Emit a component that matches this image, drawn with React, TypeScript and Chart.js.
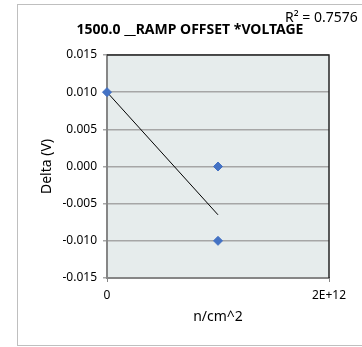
import React, { useEffect, useRef } from "react";
import { Chart, registerables } from "chart.js";

Chart.register(...registerables);

const chartTitle = "1500.0 __RAMP OFFSET *VOLTAGE";
const rSquaredLabel = "R² = 0.7576";
const xAxisTitle = "n/cm^2";
const yAxisTitle = "Delta (V)";

const pointX = [0, 1e12, 1e12];
const pointY = [0.01, 0.0, -0.01];

const trendX = [0, 1e12];
const trendY = [0.01, -0.0065];

const yTickMin = -0.015;
const yTickMax = 0.015;
const yTickStep = 0.005;
const xTickMin = 0;
const xTickMax = 2e12;

const FONT = "'Noto Sans', 'Liberation Sans', sans-serif";

const decorPlugin = {
  id: "decor",
  beforeDraw(chart: any) {
    const { ctx, chartArea } = chart;
    ctx.save();
    ctx.strokeStyle = "#BFBFBF";
    ctx.lineWidth = 1;
    ctx.strokeRect(17.5, 4.5, 400, 341);
    ctx.fillStyle = "#E6ECEC";
    ctx.fillRect(chartArea.left, chartArea.top, chartArea.right - chartArea.left, chartArea.bottom - chartArea.top);
    ctx.restore();
  },
  afterDatasetsDraw(chart: any) {
    const { ctx, chartArea } = chart;
    ctx.save();
    ctx.strokeStyle = "#262626";
    ctx.lineWidth = 1.5;
    ctx.beginPath();
    ctx.moveTo(chartArea.left, chartArea.top);
    ctx.lineTo(chartArea.right, chartArea.top);
    ctx.lineTo(chartArea.right, chartArea.bottom);
    ctx.stroke();
    ctx.restore();
  },
  afterDraw(chart: any) {
    const { ctx, chartArea } = chart;
    ctx.save();
    ctx.fillStyle = "#000000";
    ctx.textAlign = "center";
    ctx.textBaseline = "middle";
    ctx.font = `bold 14px ${FONT}`;
    ctx.fillText(chartTitle, 190, 30);
    ctx.textAlign = "left";
    ctx.font = `14px ${FONT}`;
    ctx.fillText(rSquaredLabel, 285, 18);
    ctx.textAlign = "center";
    ctx.font = `14px ${FONT}`;
    ctx.fillText(xAxisTitle, (chartArea.left + chartArea.right) / 2, 317);
    ctx.translate(47, (chartArea.top + chartArea.bottom) / 2);
    ctx.rotate(-Math.PI / 2);
    ctx.fillText(yAxisTitle, 0, 0);
    ctx.restore();
  },
};

export default function App() {
  const canvasRef = useRef<HTMLCanvasElement | null>(null);

  useEffect(() => {
    if (!canvasRef.current) return;
    const chart = new Chart(canvasRef.current, {
      type: "scatter",
      data: {
        datasets: [
          {
            type: "scatter",
            label: "Delta",
            data: pointX.map((x, i) => ({ x, y: pointY[i] })),
            pointStyle: "rectRot",
            pointRadius: 4.5,
            pointBackgroundColor: "#4472C4",
            pointBorderColor: "#4472C4",
            clip: false,
            order: 1,
          },
          {
            type: "line",
            label: "Trend",
            data: trendX.map((x, i) => ({ x, y: trendY[i] })),
            borderColor: "#000000",
            borderWidth: 1,
            pointRadius: 0,
            fill: false,
            order: 2,
          },
        ],
      },
      options: {
        animation: false,
        responsive: false,
        maintainAspectRatio: false,
        layout: { padding: { top: 55, right: 33, left: 0, bottom: 0 } },
        plugins: {
          legend: { display: false },
          tooltip: { enabled: false },
          title: { display: false },
        },
        scales: {
          x: {
            type: "linear",
            min: xTickMin,
            max: xTickMax,
            afterFit: (s: any) => {
              s.height = 69;
            },
            ticks: {
              stepSize: xTickMax - xTickMin,
              padding: 6,
              color: "#000000",
              font: { family: FONT, size: 12 },
              maxRotation: 0,
              callback: (v: any) => (v === 0 ? "0" : Number(v).toExponential(0).toUpperCase()),
            },
            grid: {
              drawOnChartArea: false,
              drawTicks: true,
              tickLength: 4,
              color: "#868686",
            },
            border: { display: true, color: "#868686", width: 2 },
          },
          y: {
            type: "linear",
            min: yTickMin,
            max: yTickMax,
            afterFit: (s: any) => {
              s.width = 107;
            },
            ticks: {
              stepSize: yTickStep,
              padding: 6,
              color: "#000000",
              font: { family: FONT, size: 12 },
              callback: (v: any) => Number(v).toFixed(3),
            },
            grid: {
              color: "#A6A6A6",
              lineWidth: 1.5,
              drawTicks: true,
              tickLength: 4,
            },
            border: { display: true, color: "#868686", width: 2 },
          },
        },
      },
      plugins: [decorPlugin],
    } as any);
    return () => chart.destroy();
  }, []);

  return (
    <div style={{ position: "fixed", left: 0, top: 0, width: 362, height: 347, background: "#FFFFFF" }}>
      <canvas ref={canvasRef} width={362} height={347} style={{ width: 362, height: 347, display: "block" }} />
    </div>
  );
}
